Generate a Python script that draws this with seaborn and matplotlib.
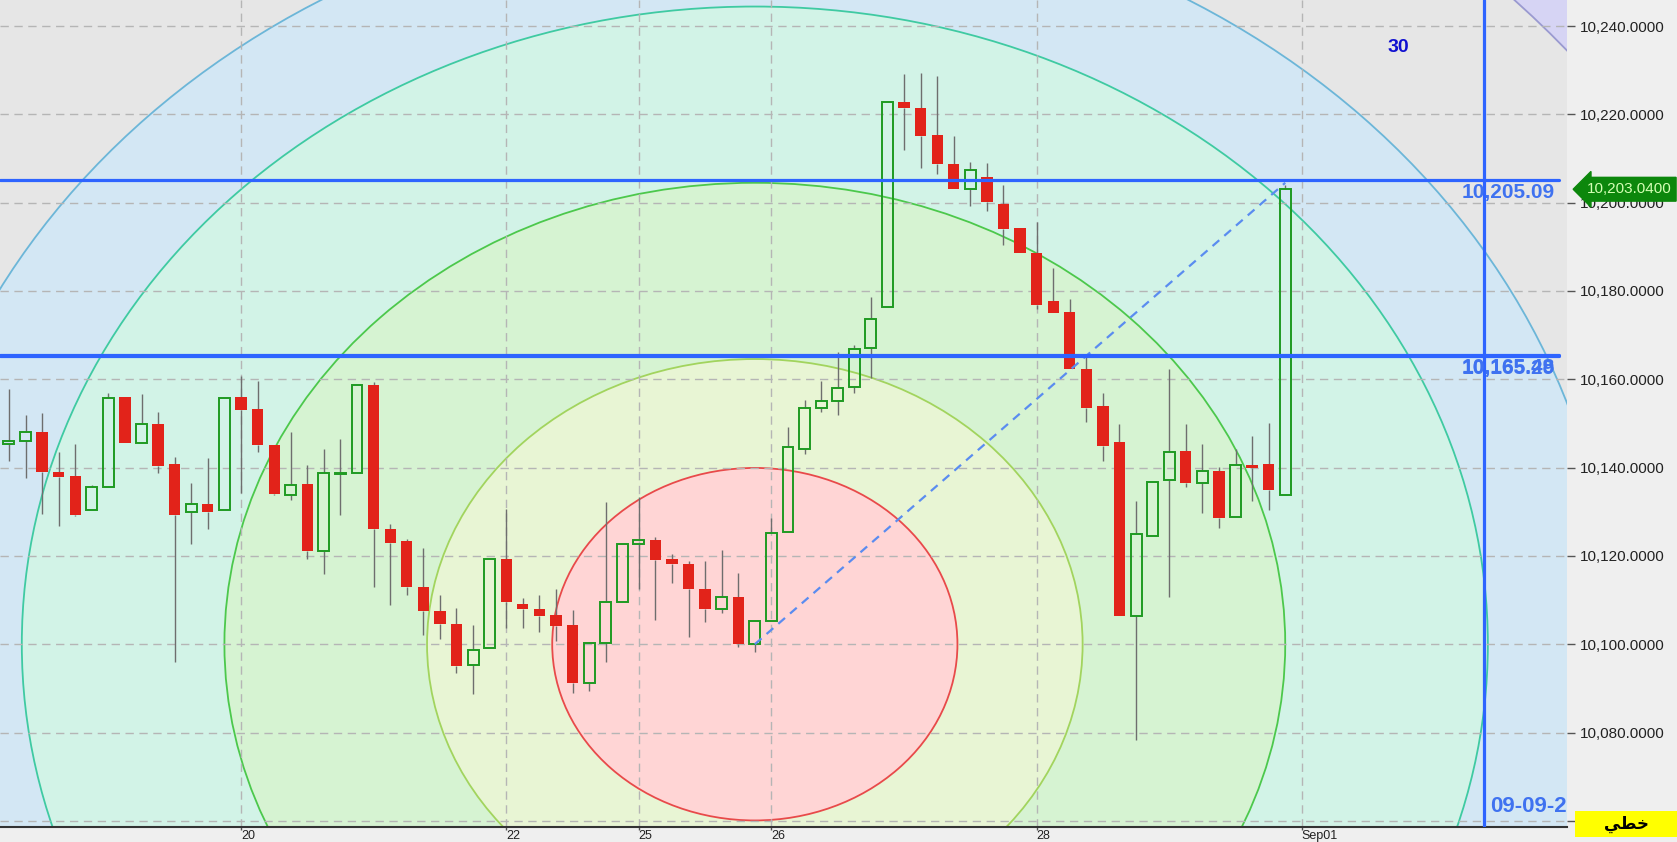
import matplotlib
matplotlib.use("Agg")
import numpy as np
import pandas as pd
import matplotlib.pyplot as plt
from matplotlib.patches import Ellipse, Rectangle
from matplotlib.transforms import blended_transform_factory
import seaborn as sns

# candle data (one bar per session)
opens = [10145.3, 10146.0, 10148.1, 10138.9, 10138.2, 10130.3, 10135.5, 10155.9, 10145.6, 10149.8,
         10140.7, 10130.0, 10131.7, 10130.3, 10155.9, 10153.2, 10145.1, 10133.8, 10136.2, 10121.1,
         10138.6, 10138.8, 10158.7, 10126.2, 10123.3, 10113.0, 10107.6, 10104.5, 10095.4, 10099.2,
         10119.2, 10109.2, 10107.9, 10106.6, 10104.3, 10091.3, 10100.2, 10109.6, 10122.6, 10123.6,
         10119.2, 10118.1, 10112.4, 10107.9, 10110.7, 10100.0, 10105.2, 10125.5, 10144.3, 10153.4,
         10155.1, 10158.3, 10167.1, 10176.4, 10222.9, 10221.5, 10215.3, 10208.7, 10203.0, 10205.9,
         10199.8, 10194.3, 10188.5, 10177.8, 10175.3, 10162.4, 10153.9, 10145.8, 10106.4, 10124.5,
         10137.2, 10143.7, 10136.6, 10139.3, 10128.7, 10140.5, 10140.7, 10133.8]
highs = [10157.7, 10151.9, 10152.3, 10143.6, 10145.3, 10136.0, 10157.0, 10155.9, 10156.6, 10152.6,
         10142.4, 10136.6, 10142.1, 10155.8, 10160.7, 10159.7, 10145.1, 10148.1, 10140.6, 10144.1,
         10146.4, 10158.7, 10159.3, 10127.3, 10123.9, 10121.7, 10111.1, 10108.1, 10104.3, 10119.2,
         10130.7, 10110.4, 10111.1, 10112.6, 10107.7, 10100.5, 10132.3, 10122.6, 10133.4, 10124.3,
         10120.5, 10118.9, 10118.9, 10121.3, 10116.2, 10105.2, 10128.5, 10149.1, 10155.3, 10159.7,
         10166.2, 10167.7, 10178.7, 10222.9, 10229.1, 10229.4, 10228.7, 10215.1, 10209.3, 10208.9,
         10204.0, 10194.3, 10195.7, 10185.1, 10178.1, 10165.5, 10156.9, 10149.8, 10132.5, 10136.8,
         10162.4, 10149.8, 10145.3, 10140.2, 10144.1, 10147.1, 10150.1, 10204.0]
lows = [10141.5, 10137.7, 10129.6, 10126.8, 10129.1, 10130.3, 10135.5, 10145.5, 10145.6, 10138.7,
        10095.9, 10122.8, 10126.1, 10130.3, 10134.3, 10143.6, 10133.8, 10132.6, 10119.4, 10116.0,
        10129.2, 10138.8, 10113.0, 10108.8, 10111.1, 10102.0, 10101.1, 10093.5, 10088.8, 10099.2,
        10103.6, 10103.6, 10102.8, 10100.7, 10089.0, 10089.4, 10095.9, 10109.6, 10112.6, 10105.4,
        10113.9, 10101.7, 10105.1, 10107.1, 10099.4, 10098.3, 10105.2, 10125.5, 10143.0, 10152.6,
        10151.9, 10156.8, 10160.2, 10176.4, 10211.9, 10207.8, 10206.5, 10203.0, 10199.2, 10198.1,
        10190.4, 10188.7, 10176.0, 10175.1, 10162.4, 10150.4, 10141.5, 10106.4, 10078.3, 10124.5,
        10110.6, 10135.5, 10129.8, 10126.4, 10128.7, 10132.5, 10130.5, 10133.8]
closes = [10146.1, 10148.0, 10139.0, 10137.8, 10129.2, 10135.5, 10155.8, 10145.5, 10149.8, 10140.4,
          10129.2, 10131.7, 10130.0, 10155.8, 10153.0, 10145.2, 10134.0, 10136.1, 10121.1, 10138.8,
          10138.7, 10158.7, 10126.2, 10123.0, 10113.0, 10107.5, 10104.5, 10095.0, 10098.8, 10119.2,
          10109.6, 10107.9, 10106.4, 10104.1, 10091.3, 10100.2, 10109.6, 10122.6, 10123.6, 10119.0,
          10118.1, 10112.6, 10107.9, 10110.6, 10100.0, 10105.2, 10125.2, 10144.7, 10153.4, 10155.1,
          10158.1, 10166.8, 10173.6, 10222.9, 10221.4, 10215.2, 10208.7, 10203.0, 10207.5, 10200.2,
          10194.0, 10188.7, 10176.8, 10175.1, 10162.4, 10153.6, 10144.9, 10106.4, 10124.9, 10136.8,
          10143.6, 10136.4, 10139.2, 10128.5, 10140.5, 10140.0, 10135.0, 10203.04]

# x axis (bar index) labels
tick_pos = [14, 30, 38, 46, 62, 78]
tick_labels = ["20", "22", "25", "26", "28", "Sep01"]
y_ticks = [10060, 10080, 10100, 10120, 10140, 10160, 10180, 10200, 10220, 10240]

# fibonacci arcs
fib_start = (45, 10100.0)
fib_end = (77, 10204.5)
fib_levels = [2.0, 1.618, 1.382, 1.0, 0.618, 0.382]
ring_face = ["#e6e6e6", "#d3e7f4", "#d2f3e7", "#d6f3d2", "#e8f5d4", "#ffd5d5"]
ring_edge = ["#9a9ad0", "#6cb6d8", "#3fcaa2", "#4cc84c", "#a2d45e", "#e84a4a"]

# horizontal levels and other drawn objects
h_levels = [10205.09, 10165.48, 10165.29]
h_labels = ["10,205.09", "10,165.48", "10,165.29"]
v_line_bar = 89
v_line_label = "09-09-2025"
last_price = 10203.04

df = pd.DataFrame({"open": opens, "high": highs, "low": lows, "close": closes})
df["x"] = np.arange(len(df))
df["top"] = df[["open", "close"]].max(axis=1)
df["bot"] = df[["open", "close"]].min(axis=1)
up = df[df.close >= df.open]
down = df[df.close < df.open]

sns.set_style("white")
plt.rcParams["font.family"] = ["Liberation Sans", "DejaVu Sans"]

fig = plt.figure(figsize=(16.77, 8.42), dpi=100, facecolor="#efefef")
ax = fig.add_axes([0, 15 / 842, 1567 / 1677, 827 / 842])
ax.set_facecolor("#d6d4f4")

# arcs, biggest first so the smaller ones sit on top
a = fib_end[0] - fib_start[0]
b = fib_end[1] - fib_start[1]
for lvl, fc, ec in zip(fib_levels, ring_face, ring_edge):
    ax.add_patch(Ellipse(fib_start, 2 * a * lvl, 2 * b * lvl, facecolor=fc,
                         edgecolor=ec, lw=1.3, zorder=0.2))

# wicks
wick_c = "#6e6e6e"
ax.vlines(df.x, df.top, df.high, color=wick_c, lw=1, zorder=2)
ax.vlines(df.x, df.low, df.bot, color=wick_c, lw=1, zorder=2)
# bodies
ax.bar(down.x, down.open - down.close, bottom=down.close, width=0.68,
       color="#e2231a", lw=0, zorder=3)
ax.bar(up.x, (up.close - up.open).clip(lower=0.15), bottom=up.open, width=0.66,
       fill=False, edgecolor="#1f9a22", lw=1.4, zorder=3)

# fib trend line
sns.lineplot(x=[fib_start[0], fib_end[0]], y=[fib_start[1], fib_end[1]], ax=ax,
             color="#5a8cf0", lw=1.6, linestyle=(0, (4, 3)), zorder=4)

blend = blended_transform_factory(ax.transAxes, ax.transData)
for lvl, lab in zip(h_levels, h_labels):
    ax.axhline(lvl, xmin=0, xmax=1559 / 1567, color="#2e64ff", lw=2.3, zorder=5)
    ax.annotate(lab, xy=(1555 / 1567, lvl), xycoords=blend, xytext=(0, -2),
                textcoords="offset points", ha="right", va="top", fontsize=15,
                fontweight="bold", color="#3f72f0", zorder=6)

ax.axvline(v_line_bar, color="#2e64ff", lw=2.3, zorder=5)
ax.text(v_line_bar + 0.35, 0.012, v_line_label, transform=ax.get_xaxis_transform(),
        ha="left", va="bottom", fontsize=16, fontweight="bold", color="#3f72f0",
        clip_on=True, zorder=6)

ax.text(1398 / 1567, 1 - 48 / 827, "30", transform=ax.transAxes, ha="center",
        va="center", fontsize=14, fontweight="bold", color="#1010d0", zorder=6)

ax.set_xlim(-0.54, 94.0)
ax.set_ylim(10058.6, 10245.9)

ax.set_xticks(tick_pos, tick_labels)
for t in ax.get_xticklabels():
    t.set_ha("left")
ax.set_yticks(y_ticks, [""] + [f"{v:,.4f}" for v in y_ticks[1:]])
ax.yaxis.tick_right()
ax.tick_params(axis="y", length=6, width=1, pad=3, labelsize=11, colors="#555555",
               labelcolor="#222222", right=True)
ax.tick_params(axis="x", length=2, width=1, pad=0.5, labelsize=9, colors="#555555",
               labelcolor="#222222", bottom=True)

ax.set_axisbelow(True)
ax.grid(True, color="#b5b5b5", lw=1, linestyle=(0, (6, 4)), zorder=0.5)
for s in ["top", "left", "right"]:
    ax.spines[s].set_visible(False)
ax.spines["bottom"].set_color("#333333")
ax.spines["bottom"].set_linewidth(1.5)

# last price tag
ax.annotate(f"{last_price:,.4f}", xy=(1.0, last_price), xycoords=blend,
            xytext=(14, 0), textcoords="offset points", ha="left", va="center",
            fontsize=11, color="#d4ffb4", annotation_clip=False, zorder=7,
            bbox=dict(boxstyle="larrow,pad=0.32", fc="#0c870c", ec="#0c870c"))

# chart type box (bottom right)
fig.add_artist(Rectangle((1575 / 1677, 5 / 842), 102 / 1677, 26 / 842,
                         transform=fig.transFigure, fc="#ffff00", ec="none", zorder=8))
fig.text(1626 / 1677, 18 / 842, "\uFEF2\uFEC4\uFEA7", ha="center", va="center",
         fontsize=12, fontweight="bold", family=["DejaVu Sans"], color="black", zorder=9)

fig.savefig("out.png", dpi=100, facecolor=fig.get_facecolor())
